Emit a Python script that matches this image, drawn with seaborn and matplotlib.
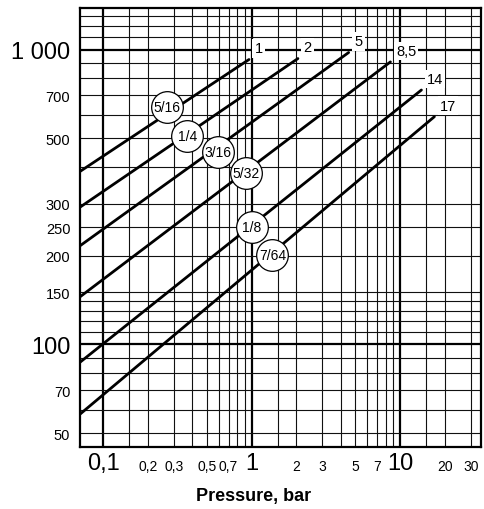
import numpy as np
import pandas as pd
import matplotlib
matplotlib.use("Agg")
import matplotlib.pyplot as plt
import matplotlib.ticker as mtick
import seaborn as sns

# nozzle lines: start / end (pressure bar, flow)
nozzles  = ["5/16", "1/4", "3/16", "5/32", "1/8", "7/64"]
p_start  = [0.07, 0.07, 0.07, 0.07, 0.07, 0.07]
q_start  = [386, 292, 216, 145, 87, 58]
p_end    = [0.96, 2.05, 4.5, 8.6, 13.9, 17.0]
q_end    = [925, 932, 977, 908, 729, 592]
end_text = ["1", "2", "5", "8,5", "14", "17"]

# where the round nozzle tags sit
tag_p = [0.27, 0.37, 0.59, 0.92, 1.0, 1.38]
tag_q = [640, 511, 448, 381, 250, 201]

x_major = [0.1, 1, 10]
x_major_lbl = ["0,1", "1", "10"]
x_minor = [0.15, 0.2, 0.3, 0.4, 0.5, 0.6, 0.7, 0.8, 0.9,
           1.5, 2, 3, 4, 5, 6, 7, 8, 9, 15, 20, 30]
x_minor_lbl = ["", "0,2", "0,3", "", "0,5", "", "0,7", "", "",
               "", "2", "3", "", "5", "", "7", "", "", "", "20", "30"]

y_major = [100, 1000]
y_major_lbl = ["100", "1 000"]
y_minor = [50, 60, 70, 80, 90, 110, 120, 130, 140, 150, 200, 250, 300,
           400, 500, 600, 700, 800, 900, 1100, 1200, 1300]
y_minor_lbl = ["50", "", "70", "", "", "", "", "", "", "150", "200", "250", "300",
               "", "500", "", "700", "", "", "", "", ""]

sns.set_style("white")
plt.rcParams["font.family"] = ["Liberation Sans", "DejaVu Sans"]
plt.rcParams.update({"text.color": "black", "axes.labelcolor": "black",
                     "xtick.color": "black", "ytick.color": "black"})

df = pd.DataFrame({
    "nozzle":   nozzles * 2,
    "pressure": p_start + p_end,
    "flow":     q_start + q_end,
})

fig = plt.figure(figsize=(4.84, 5.10), dpi=100)
ax = fig.add_axes([0.1653, 0.1222, 0.8285, 0.8596])

sns.lineplot(data=df, x="pressure", y="flow", hue="nozzle", units="nozzle",
             estimator=None, sort=False, palette={n: "black" for n in nozzles},
             linewidth=2.0, legend=False, ax=ax, zorder=3)

ax.set_xscale("log")
ax.set_yscale("log")
ax.set_xlim(0.07, 35)
ax.set_ylim(45, 1380)

ax.xaxis.set_major_locator(mtick.FixedLocator(x_major))
ax.xaxis.set_major_formatter(mtick.FixedFormatter(x_major_lbl))
ax.xaxis.set_minor_locator(mtick.FixedLocator(x_minor))
ax.xaxis.set_minor_formatter(mtick.FixedFormatter(x_minor_lbl))
ax.yaxis.set_major_locator(mtick.FixedLocator(y_major))
ax.yaxis.set_major_formatter(mtick.FixedFormatter(y_major_lbl))
ax.yaxis.set_minor_locator(mtick.FixedLocator(y_minor))
ax.yaxis.set_minor_formatter(mtick.FixedFormatter(y_minor_lbl))

ax.tick_params(which="both", length=0)
ax.tick_params(axis="x", which="major", labelsize=17, pad=4)
ax.tick_params(axis="x", which="minor", labelsize=10, pad=9)
ax.tick_params(axis="y", which="major", labelsize=17, pad=7)
ax.tick_params(axis="y", which="minor", labelsize=10.5, pad=7)

ax.grid(which="major", color="black", linewidth=1.6)
ax.grid(which="minor", color="#111111", linewidth=0.8)
ax.set_axisbelow(True)
for s in ax.spines.values():
    s.set_color("black")
    s.set_linewidth(1.6)

ax.set_xlabel("Pressure, bar", fontsize=13, fontweight="bold")
ax.xaxis.label.set_va("center")
ax.xaxis.set_label_coords(0.434, -0.112)
ax.set_ylabel("")

# pressure tags at the line ends
for p, q, t in zip(p_end, q_end, end_text):
    ax.annotate(t, (p, q), xytext=(4, 8), textcoords="offset points",
                ha="left", va="center", fontsize=10.5, zorder=4,
                bbox=dict(boxstyle="square,pad=0.15", fc="white", ec="none"))

# round nozzle tags
sns.scatterplot(x=tag_p, y=tag_q, s=520, color="white", edgecolor="black",
                linewidth=0.9, ax=ax, zorder=5, legend=False)
for p, q, t in zip(tag_p, tag_q, nozzles):
    ax.text(p, q, t, ha="center", va="center", fontsize=10, zorder=6)

fig.savefig("out.png", dpi=100)
plt.close(fig)
